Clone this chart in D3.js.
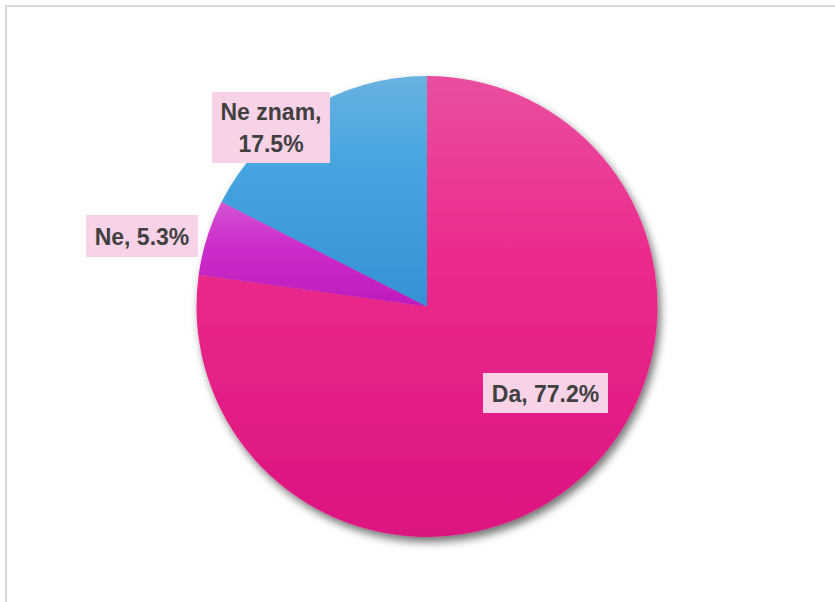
<!DOCTYPE html>
<html><head><meta charset="utf-8">
<script src="https://cdn.jsdelivr.net/npm/d3@7"></script>
<style>html,body{margin:0;padding:0;background:#fff;}svg{display:block;}</style>
</head><body>
<svg id="chart" width="835" height="602"></svg>
<script>
const categories = ["Da", "Ne", "Ne znam"];
const values = [77.2, 5.3, 17.5];
const labels = [["Da, 77.2%"], ["Ne, 5.3%"], ["Ne znam,", "17.5%"]];
const colorsTop = ["#e94e9e", "#d455d2", "#68b2e2"];
const colorsMid = ["#ec2a8c", "#cc2ecb", "#45a4df"];
const colorsBottom = ["#dc1381", "#bf1bbd", "#3592d3"];

const svg = d3.select("#chart");
svg.append("rect").attr("x", 6).attr("y", 6).attr("width", 840).attr("height", 610)
  .attr("fill", "#fff").attr("stroke", "#d9d9d9").attr("stroke-width", 2);

const defs = svg.append("defs");
const f = defs.append("filter").attr("id", "shadow").attr("x", "-20%").attr("y", "-20%").attr("width", "140%").attr("height", "140%");
f.append("feDropShadow").attr("dx", 3).attr("dy", 5).attr("stdDeviation", 4)
  .attr("flood-color", "#000").attr("flood-opacity", 0.55);

categories.forEach((c, i) => {
  const g = defs.append("linearGradient").attr("id", "grad" + i)
    .attr("x1", 0).attr("y1", 0).attr("x2", 0).attr("y2", 1);
  g.append("stop").attr("offset", "0%").attr("stop-color", colorsTop[i]);
  g.append("stop").attr("offset", "40%").attr("stop-color", colorsMid[i]);
  g.append("stop").attr("offset", "100%").attr("stop-color", colorsBottom[i]);
});

const cx = 427, cy = 306.5, r = 230.5;
const pie = d3.pie().sort(null).value(d => d)(values);
const arc = d3.arc().innerRadius(0).outerRadius(r);

const gp = svg.append("g").attr("transform", `translate(${cx},${cy})`).attr("filter", "url(#shadow)");
gp.selectAll("path").data(pie).join("path")
  .attr("d", arc)
  .attr("fill", (d, i) => `url(#grad${i})`);

const boxes = [
  {x: 483, y: 373, w: 125, h: 40},
  {x: 86, y: 215, w: 112, h: 42},
  {x: 212, y: 92, w: 118, h: 71}
];
const gl = svg.append("g");
labels.forEach((lines, i) => {
  const b = boxes[i];
  gl.append("rect").attr("x", b.x).attr("y", b.y).attr("width", b.w).attr("height", b.h)
    .attr("fill", "#f8d3e8");
  const lh = 31.6;
  const startY = b.y + b.h / 2 - (lines.length - 1) * lh / 2 + 8.5;
  lines.forEach((t, j) => {
    gl.append("text").attr("x", b.x + b.w / 2).attr("y", startY + j * lh)
      .attr("text-anchor", "middle")
      .attr("font-family", "Liberation Sans, Arial, sans-serif")
      .attr("font-weight", "bold").attr("font-size", 23)
      .attr("fill", "#404040").text(t);
  });
});
</script>
</body></html>
